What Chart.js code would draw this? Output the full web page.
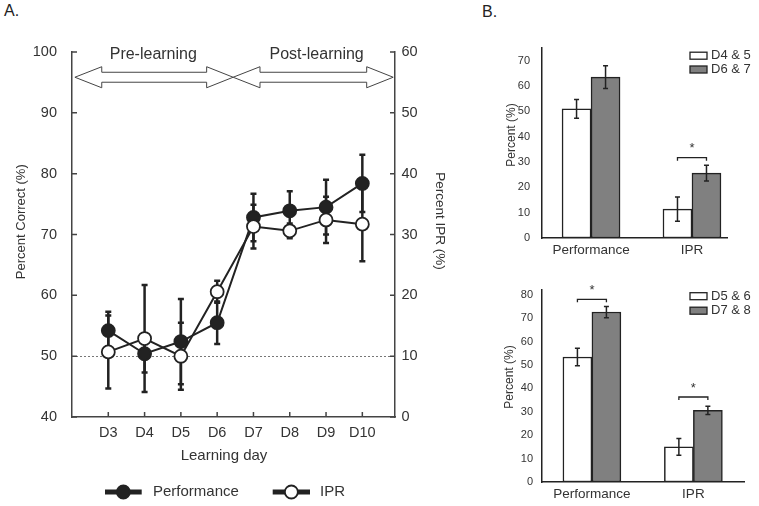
<!DOCTYPE html>
<html>
<head>
<meta charset="utf-8">
<script src="https://cdn.jsdelivr.net/npm/chart.js@4.4.1/dist/chart.umd.min.js"></script>
<style>
  html, body { margin: 0; padding: 0; background: #fff; }
  #page { position: relative; width: 759px; height: 506px; overflow: hidden; font-family: 'Liberation Sans', Arial, sans-serif; }
  .box { position: absolute; }
  .panel-label { position: absolute; font-size: 16px; line-height: 16px; color: #222; }
</style>
</head>
<body>
<div id="page">
  <div class="panel-label" style="left:4px;top:3px">A.</div>
  <div class="panel-label" style="left:482px;top:4px">B.</div>
  <canvas id="chartA" class="box" style="left:0;top:0" width="470" height="506"></canvas>
  <canvas id="chartB1" class="box" style="left:480px;top:0" width="279" height="262"></canvas>
  <canvas id="chartB2" class="box" style="left:480px;top:262px" width="279" height="244"></canvas>
</div>
<script>
// ---- Panel A data ----
const days = [3, 4, 5, 6, 7, 8, 9, 10];
const dayLabels = ["D3", "D4", "D5", "D6", "D7", "D8", "D9", "D10"];
const perfMean = [54.2, 50.4, 52.4, 55.5, 72.8, 73.9, 74.5, 78.4];
const perfErr  = [3.1, 3.1, 7.0, 3.5, 3.9, 3.2, 4.5, 4.7];
const iprMean  = [10.7, 12.9, 10.0, 20.6, 31.3, 30.6, 32.4, 31.7];
const iprErr   = [6.0, 8.8, 5.5, 1.8, 3.6, 1.2, 3.8, 6.1];
const leftTicks  = [40, 50, 60, 70, 80, 90, 100];
const rightTicks = [0, 10, 20, 30, 40, 50, 60];
const chanceLevel = 50;
const phaseNames  = ["Pre-learning", "Post-learning"];
const phaseLabelX = [4.24, 8.74];
// arrow outline in axis units: [left tip, left head base, right head base, right tip]
const phaseArrowsX = [[2.08, 2.82, 5.71, 6.44], [6.44, 7.18, 10.12, 10.85]];

// ---- Panel B data ----
const groupLabels = ["Performance", "IPR"];
const b1Series = ["D4 & 5", "D6 & 7"];
const b1Early = [51.0, 11.4];
const b1EarlyErr = [3.7, 4.8];
const b1Late = [63.5, 25.6];
const b1LateErr = [4.5, 3.1];
const b1SigLevel = [null, 31.7];
const b1Ticks = [0, 10, 20, 30, 40, 50, 60, 70];

const b2Series = ["D5 & 6", "D7 & 8"];
const b2Early = [53.4, 15.0];
const b2EarlyErr = [3.7, 3.6];
const b2Late = [72.6, 30.6];
const b2LateErr = [2.4, 1.8];
const b2SigLevel = [78.0, 36.3];
const b2Ticks = [0, 10, 20, 30, 40, 50, 60, 70, 80];

const FONT = "'Liberation Sans', Arial, sans-serif";
const INK = "#222";
const TEXT = "#333";
const GRAY = "#808080";

function errorBar(ctx, px, top, bot, capHalf) {
  ctx.beginPath();
  ctx.moveTo(px, top); ctx.lineTo(px, bot);
  ctx.moveTo(px - capHalf, top); ctx.lineTo(px + capHalf, top);
  ctx.moveTo(px - capHalf, bot); ctx.lineTo(px + capHalf, bot);
  ctx.stroke();
}

function vText(ctx, text, x, y, angle, font) {
  ctx.save();
  ctx.translate(x, y);
  ctx.rotate(angle);
  ctx.font = font;
  ctx.textAlign = "center";
  ctx.textBaseline = "middle";
  ctx.fillText(text, 0, 0);
  ctx.restore();
}

// ============================================================
// PANEL A: line chart, two y axes
// ============================================================
const panelAPlugin = {
  id: "panelA",
  beforeDatasetsDraw(chart) {
    const { ctx, chartArea: ca, scales: { x, y, y1 } } = chart;
    ctx.save();
    // chance level
    ctx.strokeStyle = "#777";
    ctx.lineWidth = 1;
    ctx.setLineDash([2, 2]);
    const yc = Math.round(y.getPixelForValue(chanceLevel)) + 0.5;
    ctx.beginPath(); ctx.moveTo(ca.left, yc); ctx.lineTo(ca.right, yc); ctx.stroke();
    ctx.setLineDash([]);
    // error bars
    ctx.strokeStyle = INK;
    ctx.lineWidth = 2.5;
    days.forEach((d, i) => {
      const px = x.getPixelForValue(d);
      errorBar(ctx, px, y.getPixelForValue(perfMean[i] + perfErr[i]), y.getPixelForValue(perfMean[i] - perfErr[i]), 3);
      errorBar(ctx, px, y1.getPixelForValue(iprMean[i] + iprErr[i]), y1.getPixelForValue(iprMean[i] - iprErr[i]), 3);
    });
    ctx.restore();
  },
  afterDraw(chart) {
    const { ctx, chartArea: ca, scales: { x, y, y1 } } = chart;
    ctx.save();
    // inward tick marks
    ctx.strokeStyle = "#444";
    ctx.lineWidth = 1.5;
    ctx.beginPath();
    leftTicks.forEach(v => { const p = y.getPixelForValue(v); ctx.moveTo(ca.left, p); ctx.lineTo(ca.left + 5, p); });
    rightTicks.forEach(v => { const p = y1.getPixelForValue(v); ctx.moveTo(ca.right, p); ctx.lineTo(ca.right - 5, p); });
    days.forEach(v => { const p = x.getPixelForValue(v); ctx.moveTo(p, ca.bottom); ctx.lineTo(p, ca.bottom - 5); });
    ctx.stroke();

    // phase arrows
    const X = v => x.getPixelForValue(v);
    const Y = v => y.getPixelForValue(v);
    const c = 95.85, s = 0.82, h = 1.73;
    ctx.fillStyle = "#fff";
    ctx.strokeStyle = "#444";
    ctx.lineWidth = 1;
    phaseArrowsX.forEach(([tl, bl, br, tr]) => {
      ctx.beginPath();
      ctx.moveTo(X(tl), Y(c));
      ctx.lineTo(X(bl), Y(c + h)); ctx.lineTo(X(bl), Y(c + s));
      ctx.lineTo(X(br), Y(c + s)); ctx.lineTo(X(br), Y(c + h));
      ctx.lineTo(X(tr), Y(c));
      ctx.lineTo(X(br), Y(c - h)); ctx.lineTo(X(br), Y(c - s));
      ctx.lineTo(X(bl), Y(c - s)); ctx.lineTo(X(bl), Y(c - h));
      ctx.closePath();
      ctx.fill(); ctx.stroke();
    });
    ctx.fillStyle = TEXT;
    ctx.font = "16px " + FONT;
    ctx.textAlign = "center";
    ctx.textBaseline = "middle";
    phaseNames.forEach((t, i) => ctx.fillText(t, X(phaseLabelX[i]), Y(99.6)));

    // axis titles
    vText(ctx, "Percent Correct (%)", 21.7, 221.7, -Math.PI / 2, "13px " + FONT);
    vText(ctx, "Percent IPR (%)", 440, 221, Math.PI / 2, "13.5px " + FONT);
    ctx.font = "15px " + FONT;
    ctx.fillText("Learning day", 224, 455.7);

    // legend
    const items = [
      { label: "Performance", x0: 105, x1: 141.7, fill: INK, tx: 153 },
      { label: "IPR", x0: 272.7, x1: 310, fill: "#fff", tx: 320 }
    ];
    const ly = 492;
    items.forEach(it => {
      ctx.strokeStyle = INK;
      ctx.lineWidth = 5;
      ctx.beginPath(); ctx.moveTo(it.x0, ly); ctx.lineTo(it.x1, ly); ctx.stroke();
      ctx.lineWidth = 1.8;
      ctx.fillStyle = it.fill;
      ctx.beginPath(); ctx.arc((it.x0 + it.x1) / 2, ly, 6.5, 0, Math.PI * 2); ctx.fill(); ctx.stroke();
      ctx.fillStyle = TEXT;
      ctx.font = "15px " + FONT;
      ctx.textAlign = "left";
      ctx.fillText(it.label, it.tx, ly);
    });
    ctx.restore();
  }
};

const axisBorder = { display: true, color: "#444", width: 1.5 };
const tickFontA = { family: FONT, size: 14.5 };

new Chart(document.getElementById("chartA"), {
  type: "line",
  data: {
    datasets: [
      {
        label: "IPR",
        data: days.map((d, i) => ({ x: d, y: iprMean[i] })),
        yAxisID: "y1",
        order: 1,
        borderColor: INK, borderWidth: 2,
        pointRadius: 6.5, pointBackgroundColor: "#fff", pointBorderColor: INK, pointBorderWidth: 1.8,
        tension: 0
      },
      {
        label: "Performance",
        data: days.map((d, i) => ({ x: d, y: perfMean[i] })),
        yAxisID: "y",
        order: 2,
        borderColor: INK, borderWidth: 2,
        pointRadius: 6.5, pointBackgroundColor: INK, pointBorderColor: INK, pointBorderWidth: 1.8,
        tension: 0
      }
    ]
  },
  options: {
    responsive: false,
    animation: false,
    layout: { padding: { top: 52, left: 0, right: 0, bottom: 0 } },
    plugins: { legend: { display: false }, tooltip: { enabled: false } },
    scales: {
      x: {
        type: "linear", min: 2, max: 10.9,
        afterBuildTicks: s => { s.ticks = days.map(v => ({ value: v })); },
        afterFit: s => { s.height = 89; },
        ticks: { callback: v => dayLabels[days.indexOf(v)] || "", font: tickFontA, color: TEXT, padding: 7, autoSkip: false, maxRotation: 0 },
        grid: { display: false, drawTicks: false },
        border: axisBorder
      },
      y: {
        position: "left", min: 40, max: 100,
        afterBuildTicks: s => { s.ticks = leftTicks.map(v => ({ value: v })); },
        afterFit: s => { s.width = 72; },
        ticks: { font: tickFontA, color: TEXT, padding: 15 },
        grid: { display: false, drawTicks: false },
        border: axisBorder
      },
      y1: {
        position: "right", min: 0, max: 60,
        afterBuildTicks: s => { s.ticks = rightTicks.map(v => ({ value: v })); },
        afterFit: s => { s.width = 75; },
        ticks: { font: tickFontA, color: TEXT, padding: 6.5 },
        grid: { display: false, drawTicks: false },
        border: axisBorder
      }
    }
  },
  plugins: [panelAPlugin]
});

// ============================================================
// PANEL B: grouped bars with error bars
// ============================================================
function barPanel(id, p) {
  const plugin = {
    id: "bars_" + id,
    afterDatasetsDraw(chart) {
      const { ctx, scales: { y } } = chart;
      const m0 = chart.getDatasetMeta(0).data;
      const m1 = chart.getDatasetMeta(1).data;
      ctx.save();
      ctx.strokeStyle = INK;
      ctx.lineWidth = 1.5;
      groupLabels.forEach((_, i) => {
        errorBar(ctx, m0[i].x, y.getPixelForValue(p.early[i] + p.earlyErr[i]), y.getPixelForValue(p.early[i] - p.earlyErr[i]), 2.5);
        errorBar(ctx, m1[i].x, y.getPixelForValue(p.late[i] + p.lateErr[i]), y.getPixelForValue(p.late[i] - p.lateErr[i]), 2.5);
        if (p.sig[i] !== null) {
          const by = y.getPixelForValue(p.sig[i]);
          ctx.lineWidth = 1.3;
          ctx.beginPath();
          ctx.moveTo(m0[i].x, by + 3); ctx.lineTo(m0[i].x, by);
          ctx.lineTo(m1[i].x, by); ctx.lineTo(m1[i].x, by + 3);
          ctx.stroke();
          ctx.lineWidth = 1.5;
          ctx.fillStyle = TEXT;
          ctx.font = "13px " + FONT;
          ctx.textAlign = "center";
          ctx.textBaseline = "middle";
          ctx.fillText("*", (m0[i].x + m1[i].x) / 2, by - 9);
        }
      });
      // legend
      const fills = ["#fff", GRAY];
      p.series.forEach((name, k) => {
        const cy = p.legendY[k];
        ctx.fillStyle = fills[k];
        ctx.strokeStyle = INK;
        ctx.lineWidth = 1.3;
        ctx.fillRect(210, cy - 3.5, 17, 7);
        ctx.strokeRect(210, cy - 3.5, 17, 7);
        ctx.fillStyle = TEXT;
        ctx.font = "13px " + FONT;
        ctx.textAlign = "left";
        ctx.textBaseline = "middle";
        ctx.fillText(name, 231, cy);
      });
      vText(ctx, "Percent (%)", p.titleX, p.titleY, -Math.PI / 2, "12px " + FONT);
      ctx.restore();
    }
  };

  const barBorder = { display: true, color: INK, width: 1.5 };
  new Chart(document.getElementById(id), {
    type: "bar",
    data: {
      datasets: [
        { label: p.series[0], data: groupLabels.map((_, i) => ({ x: i + 1, y: p.early[i] })), backgroundColor: "#fff", borderColor: INK, borderWidth: 1.5, borderSkipped: false, barThickness: 29 },
        { label: p.series[1], data: groupLabels.map((_, i) => ({ x: i + 1, y: p.late[i] })), backgroundColor: GRAY, borderColor: INK, borderWidth: 1.5, borderSkipped: false, barThickness: 29 }
      ]
    },
    options: {
      responsive: false,
      animation: false,
      layout: { padding: { top: p.padTop, left: 0, right: p.padRight, bottom: 0 } },
      plugins: { legend: { display: false }, tooltip: { enabled: false } },
      scales: {
        x: {
          type: "linear", min: p.xMin, max: p.xMax, offset: false,
          afterBuildTicks: s => { s.ticks = groupLabels.map((_, i) => ({ value: i + 1 })); },
          afterFit: s => { s.height = p.xHeight; },
          ticks: { callback: v => groupLabels[v - 1] || "", font: { family: FONT, size: 13.5 }, color: TEXT, padding: 4, autoSkip: false, maxRotation: 0 },
          grid: { display: false, drawTicks: false, offset: false },
          border: barBorder
        },
        y: {
          min: 0, max: p.yMax,
          afterBuildTicks: s => { s.ticks = p.ticks.map(v => ({ value: v })); },
          afterFit: s => { s.width = 62; },
          ticks: { font: { family: FONT, size: 11 }, color: TEXT, padding: p.tickPad },
          grid: { display: false, drawTicks: false },
          border: barBorder
        }
      }
    },
    plugins: [plugin]
  });
}

barPanel("chartB1", {
  series: b1Series, early: b1Early, earlyErr: b1EarlyErr, late: b1Late, lateErr: b1LateErr,
  sig: b1SigLevel, ticks: b1Ticks, yMax: 75, xMin: 0.514, xMax: 2.347,
  padTop: 48, padRight: 32, xHeight: 24, tickPad: 12,
  legendY: [55.7, 69.5], titleX: 31.7, titleY: 135
});

barPanel("chartB2", {
  series: b2Series, early: b2Early, earlyErr: b2EarlyErr, late: b2Late, lateErr: b2LateErr,
  sig: b2SigLevel, ticks: b2Ticks, yMax: 82, xMin: 0.508, xMax: 2.499,
  padTop: 28, padRight: 15, xHeight: 24, tickPad: 9,
  legendY: [34.2, 48.7], titleX: 30, titleY: 115
});
</script>
</body>
</html>
